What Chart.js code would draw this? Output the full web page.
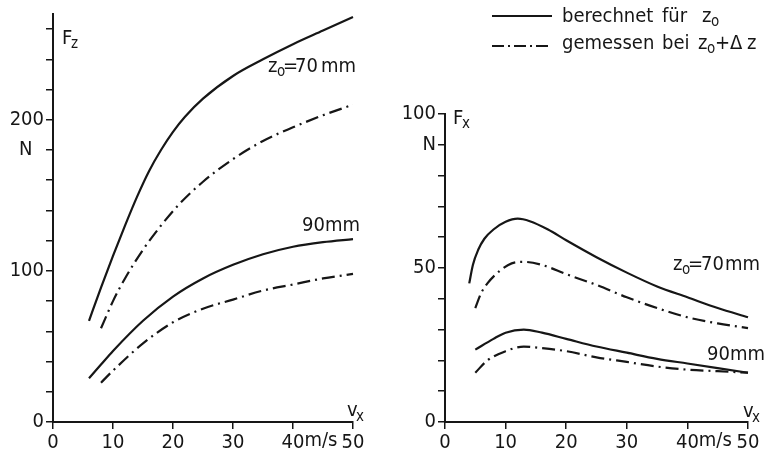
<!DOCTYPE html>
<html><head><meta charset="utf-8">
<script src="https://cdn.jsdelivr.net/npm/chart.js@4/dist/chart.umd.min.js"></script>
<style>
html,body{margin:0;padding:0;background:#fff;}
#wrap{position:relative;width:770px;height:455px;overflow:hidden;background:#fff;}
#c1{position:absolute;left:0;top:0;}
#c2{position:absolute;left:400px;top:0;}
</style></head><body>
<div id="wrap"><canvas id="c1" width="400" height="455"></canvas><canvas id="c2" width="370" height="455"></canvas></div>
<script>
// ---- Left panel: F_z (N) vs v_x (m/s) ----
const fzCalc70X = [6, 8, 10, 12, 14, 16, 18, 20, 22, 25, 30, 35, 40, 45, 50];
const fzCalc70Y = [67, 89, 110, 130, 149, 166, 180, 192, 202, 214, 229, 240, 250, 259, 268];
const fzMeas70X = [8, 10, 12, 15, 18, 21, 25, 30, 35, 40, 45, 50];
const fzMeas70Y = [62, 80, 95, 114, 130, 144, 159, 174, 186, 195, 203, 210];
const fzCalc90X = [6, 8, 10, 15, 20, 25, 30, 35, 40, 45, 50];
const fzCalc90Y = [29, 38, 47, 67, 83, 95, 104, 111, 116, 119, 121];
const fzMeas90X = [8, 10, 15, 20, 25, 30, 35, 40, 45, 50];
const fzMeas90Y = [26, 34, 52, 66, 75, 81, 87, 91, 95, 98];

// ---- Right panel: F_x (N) vs v_x (m/s) ----
const fxCalc70X = [4, 4.6, 5.5, 6.5, 8, 10, 12, 14, 17, 20, 25, 30, 35, 40, 45, 50];
const fxCalc70Y = [45, 51, 56, 59.5, 62.5, 65, 66, 65.2, 62.5, 59, 53.5, 48.5, 44, 40.5, 37, 34];
const fxMeas70X = [5, 6, 7, 9, 11, 13, 16, 20, 25, 30, 35, 40, 45, 50];
const fxMeas70Y = [37, 42, 45, 49, 51.5, 52, 51, 48, 44.5, 40.5, 37, 34, 32, 30.5];
const fxCalc90X = [5, 8, 10, 13, 16, 20, 25, 30, 35, 40, 45, 50];
const fxCalc90Y = [23.5, 27, 29, 30, 29, 27, 24.5, 22.5, 20.5, 19, 17.5, 16];
const fxMeas90X = [5, 7, 10, 13, 16, 20, 25, 30, 35, 40, 45, 50];
const fxMeas90Y = [16, 20, 23, 24.5, 24, 23, 21, 19.5, 18, 17, 16.5, 16];

// ---- Tick labels ----
const xTickValues = [0, 10, 20, 30, 40, 50];
const xTickLabels = ['0', '10', '20', '30', '40', '50'];
const xUnitLabel = 'm/s';
const fzTickValues = [0, 100, 180, 200];
const fzTickLabels = ['0', '100', 'N  ', '200'];
const fxTickValues = [0, 50, 90, 100];
const fxTickLabels = ['0', '50', 'N', '100'];

// ---- Legend / annotation texts ----
const legendCalcText = ['berechnet', 'für', 'z', 'o'];
const legendMeasText = ['gemessen', 'bei', 'z', 'o', '+', 'Δ', 'z'];

const INK = '#161616';
const FAM = '"DejaVu Sans Condensed", "Liberation Sans Narrow", "DejaVu Sans", sans-serif';
const MAIN = '20px ' + FAM;
const SUB = '15px ' + FAM;
const DASHDOT = [13, 5, 2, 5];

function pts(xs, ys) { return xs.map((x, i) => ({x: x, y: ys[i]})); }
function ds(xs, ys, dashed) {
  return {data: pts(xs, ys), borderColor: INK, borderWidth: 2.2, borderDash: dashed ? DASHDOT : [],
    pointRadius: 0, tension: 0.4, cubicInterpolationMode: 'monotone', fill: false, clip: false};
}
function lookup(vals, texts, v) { const i = vals.indexOf(v); return i < 0 ? '' : texts[i]; }

function txt(ctx, t, x, y, sub) {
  ctx.font = sub ? SUB : MAIN;
  ctx.fillStyle = INK;
  ctx.textAlign = 'left';
  ctx.textBaseline = 'alphabetic';
  ctx.fillText(t, x, y);
}

function unitPlugin() {
  return {id: 'unit', afterDraw(chart) {
    const ctx = chart.ctx, sx = chart.scales.x;
    ctx.save();
    ctx.font = MAIN;
    const w = ctx.measureText(xTickLabels[4]).width;
    ctx.fillStyle = INK; ctx.textAlign = 'left'; ctx.textBaseline = 'top';
    ctx.fillText(xUnitLabel, sx.getPixelForValue(40) + w / 2, sx.top + 9);
    ctx.restore();
  }};
}

function makeChart(id, datasets, yMax, yStep, tVals, tTexts, yWidth, padRight, padTop, draw) {
  return new Chart(document.getElementById(id), {
    type: 'line',
    data: {datasets: datasets},
    options: {
      responsive: false, animation: false, events: [],
      layout: {padding: {left: 0, right: padRight, top: padTop, bottom: 0}},
      plugins: {legend: {display: false}, tooltip: {enabled: false}},
      scales: {
        x: {type: 'linear', min: 0, max: 50,
          ticks: {stepSize: 10, autoSkip: false, maxRotation: 0, padding: 2, color: INK,
            font: {family: FAM, size: 20}, callback: v => lookup(xTickValues, xTickLabels, v)},
          grid: {drawOnChartArea: false, drawTicks: true, tickLength: 7, color: INK, lineWidth: 1.5},
          border: {display: true, color: INK, width: 2},
          afterFit: s => { s.height = 33; }},
        y: {type: 'linear', min: 0, max: yMax,
          ticks: {stepSize: yStep, includeBounds: false, autoSkip: false, padding: 2, color: INK,
            crossAlign: 'near', font: {family: FAM, size: 20}, callback: v => lookup(tVals, tTexts, v)},
          grid: {drawOnChartArea: false, drawTicks: true, tickLength: 7, color: INK, lineWidth: 1.5},
          border: {display: true, color: INK, width: 2},
          afterFit: s => { s.width = yWidth; }}
      }
    },
    plugins: [unitPlugin(), {id: 'ann', afterDraw(chart) { const c = chart.ctx; c.save(); draw(c); c.restore(); }}]
  });
}

makeChart('c1', [
  ds(fzCalc70X, fzCalc70Y, false), ds(fzMeas70X, fzMeas70Y, true),
  ds(fzCalc90X, fzCalc90Y, false), ds(fzMeas90X, fzMeas90Y, true)
], 270, 20, fzTickValues, fzTickLabels, 53, 47, 10, ctx => {
  txt(ctx, 'F', 62, 44); txt(ctx, 'z', 71, 48, true);
  txt(ctx, 'z', 268, 72); txt(ctx, 'o', 277, 76, true);
  txt(ctx, '=', 283, 72); txt(ctx, '70', 295, 72); txt(ctx, 'mm', 321, 72);
  txt(ctx, '90mm', 302, 231);
  txt(ctx, 'v', 347, 416); txt(ctx, 'x', 356, 421, true);
});

makeChart('c2', [
  ds(fxCalc70X, fxCalc70Y, false), ds(fxMeas70X, fxMeas70Y, true),
  ds(fxCalc90X, fxCalc90Y, false), ds(fxMeas90X, fxMeas90Y, true)
], 100, 10, fxTickValues, fxTickLabels, 45, 22, 114, ctx => {
  txt(ctx, 'F', 53, 124); txt(ctx, 'x', 62, 128, true);
  txt(ctx, 'z', 273, 270); txt(ctx, 'o', 282, 274, true);
  txt(ctx, '=', 288, 270); txt(ctx, '70', 301, 270); txt(ctx, 'mm', 325, 270);
  txt(ctx, '90mm', 307, 360);
  txt(ctx, 'v', 343, 417); txt(ctx, 'x', 352, 422, true);
  // legend
  ctx.strokeStyle = INK; ctx.lineWidth = 2;
  ctx.setLineDash([]);
  ctx.beginPath(); ctx.moveTo(92, 16); ctx.lineTo(152, 16); ctx.stroke();
  ctx.setLineDash([12, 4, 2, 4]);
  ctx.beginPath(); ctx.moveTo(92, 46); ctx.lineTo(152, 46); ctx.stroke();
  ctx.setLineDash([]);
  txt(ctx, legendCalcText[0], 162, 22); txt(ctx, legendCalcText[1], 262, 22);
  txt(ctx, legendCalcText[2], 302, 22); txt(ctx, legendCalcText[3], 311, 26, true);
  txt(ctx, legendMeasText[0], 162, 49); txt(ctx, legendMeasText[1], 262, 49);
  txt(ctx, legendMeasText[2], 298, 49); txt(ctx, legendMeasText[3], 307, 53, true);
  txt(ctx, legendMeasText[4], 315, 49); txt(ctx, legendMeasText[5], 330, 49);
  txt(ctx, legendMeasText[6], 347, 49);
});
</script>
</body></html>
